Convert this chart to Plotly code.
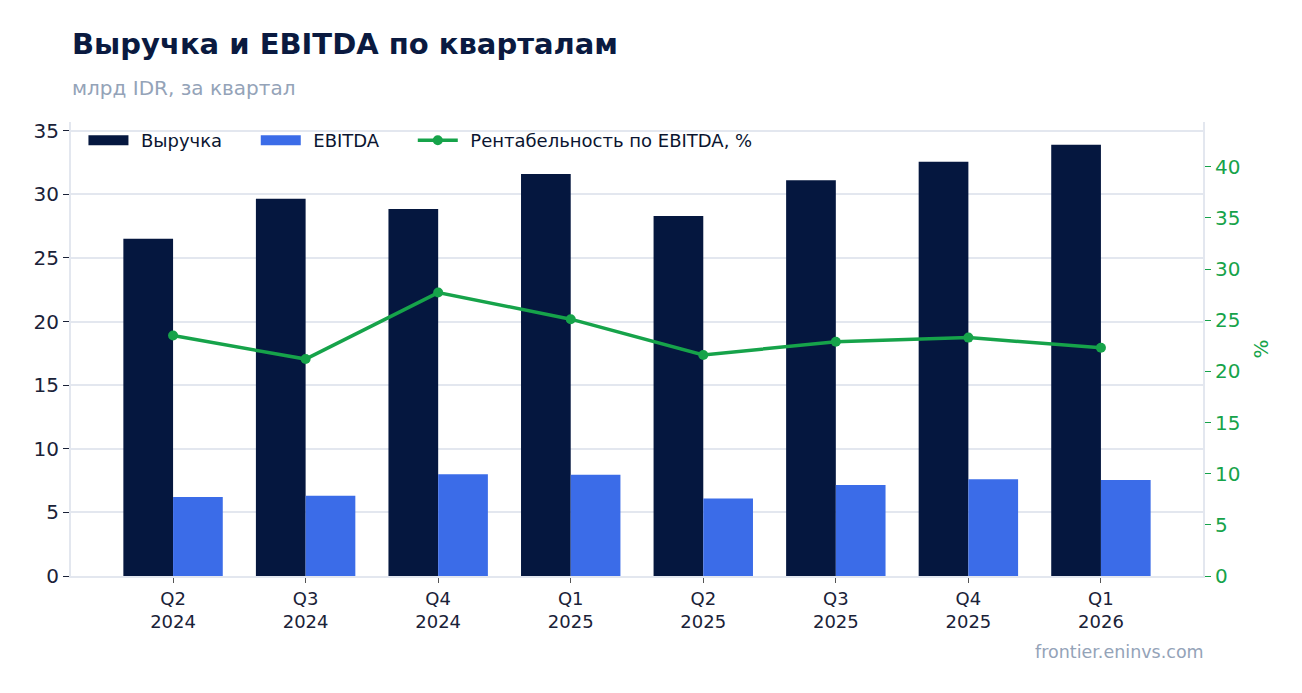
import plotly.graph_objects as go

# %% données
quarters = ["Q2<br>2024", "Q3<br>2024", "Q4<br>2024", "Q1<br>2025",
            "Q2<br>2025", "Q3<br>2025", "Q4<br>2025", "Q1<br>2026"]
revenue = [26.5, 29.65, 28.85, 31.6, 28.3, 31.1, 32.55, 33.9]
ebitda = [6.2, 6.3, 8.0, 7.95, 6.1, 7.15, 7.6, 7.55]
margin = [23.5, 21.2, 27.7, 25.1, 21.6, 22.9, 23.3, 22.3]

navy = "#05173f"
blue = "#3b6ce8"
green = "#16a34a"
grid = "#e3e7ef"

pad = "\u00a0\u200a"
gap = "\u00a0" * 5

# %% figure
fig = go.Figure()
fig.add_trace(go.Bar(x=quarters, y=revenue, name="Выручка", marker_color=navy,
                     marker_line_width=0, showlegend=False))
fig.add_trace(go.Bar(x=quarters, y=ebitda, name="EBITDA", marker_color=blue,
                     marker_line_width=0, showlegend=False))
# legend entries with wide rectangles for the bars
fig.add_trace(go.Scatter(x=[None], y=[None], mode="lines", name=pad + "Выручка" + gap,
                         line=dict(color=navy, width=13)))
fig.add_trace(go.Scatter(x=[None], y=[None], mode="lines", name=pad + "EBITDA" + gap,
                         line=dict(color=blue, width=13)))
fig.add_trace(go.Scatter(
    x=quarters, y=margin, name=pad + "Рентабельность по EBITDA, %",
    mode="lines+markers", yaxis="y2",
    line=dict(color=green, width=3.5), marker=dict(size=10, color=green),
))

fig.update_layout(
    width=1302, height=693,
    font=dict(family="DejaVu Sans", color="#1a2238"),
    plot_bgcolor="white", paper_bgcolor="white",
    margin=dict(l=63, r=107, t=114, b=125),
    barmode="group", bargap=0.25, bargroupgap=0,
    showlegend=True,
    legend=dict(orientation="h", x=0.011, y=1.0, yanchor="top",
                font=dict(size=18, color="#0b1530"), bgcolor="rgba(0,0,0,0)",
                itemwidth=40),
    xaxis=dict(range=[-0.77, 7.77], showline=True, linecolor=grid, linewidth=2,
               ticks="outside", ticklen=5, tickcolor="#555",
               tickfont=dict(size=18, color="#1a2238")),
    yaxis=dict(range=[0, 35.68], dtick=5, showgrid=True, gridcolor=grid, gridwidth=2,
               showline=True, linecolor=grid, linewidth=2, ticks="outside",
               ticklen=6, tickcolor="#1a2238", tickfont=dict(size=20, color="#1a2238"),
               zeroline=False),
    yaxis2=dict(range=[0, 44.37], dtick=5, overlaying="y", side="right",
                showgrid=False, showline=True, linecolor=grid, linewidth=2,
                ticks="outside", ticklen=6, tickcolor=green,
                tickfont=dict(size=20, color=green),
                title=dict(text="%", font=dict(size=20, color=green), standoff=15),
                zeroline=False),
)

fig.add_annotation(text="<b>Выручка и EBITDA по кварталам</b>", xref="paper", yref="paper",
                   x=0, y=1, xshift=-1, yshift=78, xanchor="left", yanchor="middle",
                   showarrow=False, font=dict(size=29, color="#0a1a40"))
fig.add_annotation(text="млрд IDR, за квартал", xref="paper", yref="paper",
                   x=0, y=1, xshift=-1, yshift=34, xanchor="left", yanchor="middle",
                   showarrow=False, font=dict(size=20, color="#94a3b8"))
fig.add_annotation(text="frontier.eninvs.com", xref="paper", yref="paper",
                   x=1, y=0, xshift=3, yshift=-76, xanchor="right", yanchor="middle",
                   showarrow=False, font=dict(size=17.5, color="#94a3b8"))

fig.write_html("out.html")
